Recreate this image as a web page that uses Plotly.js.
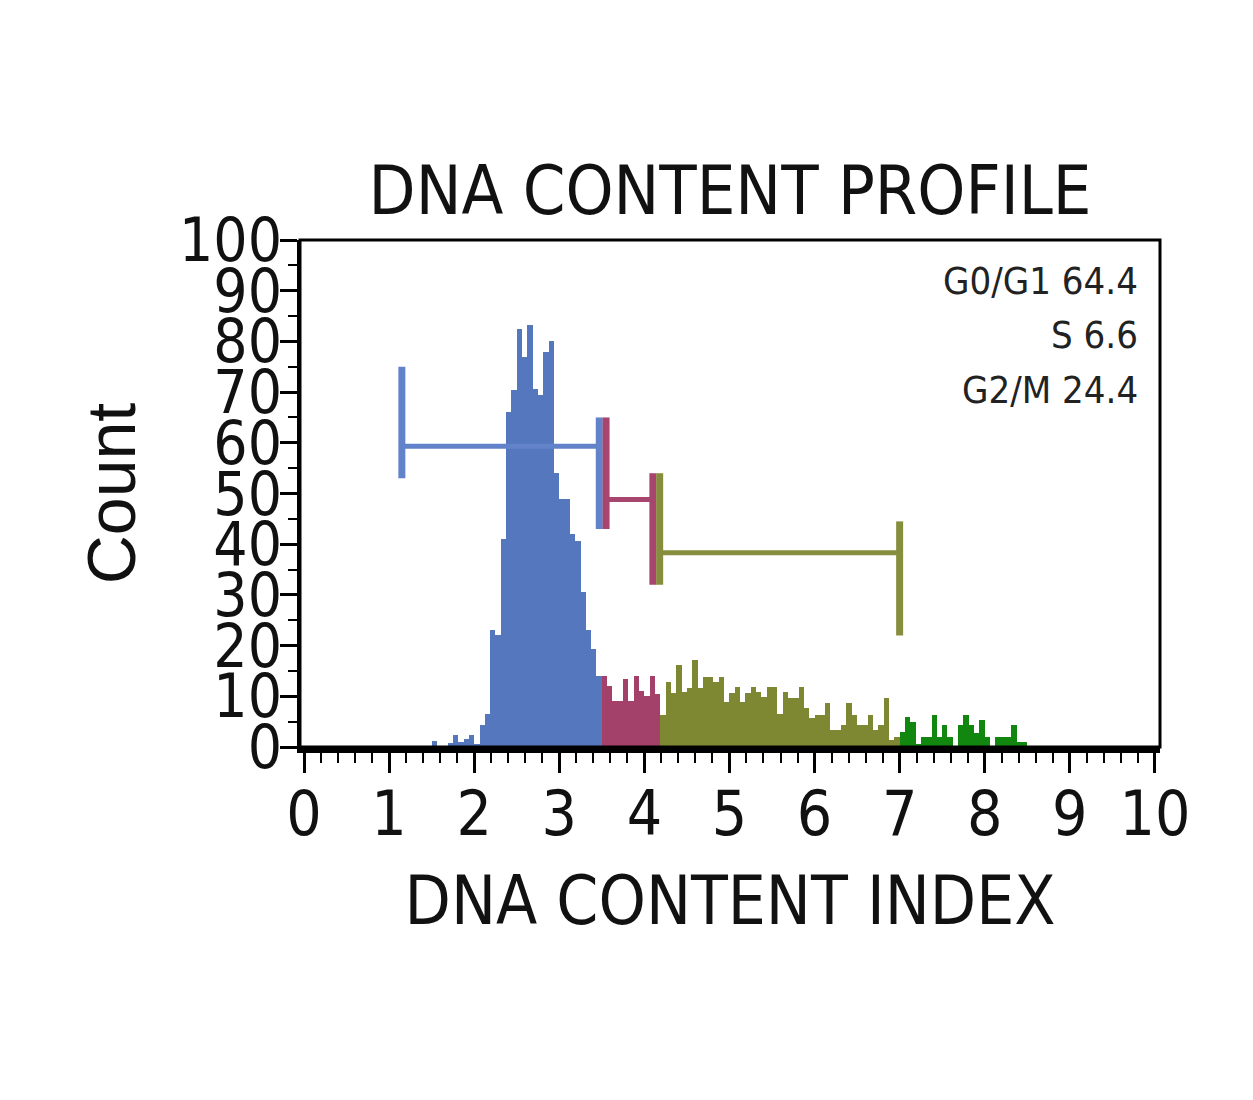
<!DOCTYPE html>
<html>
<head>
<meta charset="utf-8">
<script src="https://cdn.plot.ly/plotly-3.0.1.min.js"></script>
<style>
  html, body { margin: 0; padding: 0; background: #ffffff; }
  #chart { width: 1253px; height: 1100px; }
</style>
</head>
<body>
<div id="chart"></div>
<script>
// ---------------- data ----------------
const binWidth = 0.0625;

// G0/G1 phase histogram (bins starting at 1.5)
const g1FirstBin = 1.5;
const g1Counts = [1.2, 0, 0, 0.8, 2.3, 1.0, 1.5, 2.3, 0.5, 4.3, 6.5, 23, 22, 41, 66, 70.5,
                  82.4, 77, 83.3, 70.7, 69.5, 78, 80, 54, 49, 49, 42, 40.6, 30.5, 23, 19.3, 14];

// S phase histogram
const sFirstBin = 3.5;
const sCounts = [14, 12, 9, 9, 13.5, 9, 14, 11, 10, 14, 10.5];

// G2/M phase histogram
const g2mFirstBin = 4.1875;
const g2mCounts = [6.3, 12.9, 10.6, 16.2, 10.9, 11.6, 17.2, 11.6, 13.9, 13.9, 12.9, 13.9, 8.9,
                   10.6, 11.9, 8.9, 10.6, 11.9, 10.9, 9.9, 11.9, 11.9, 6.6, 10.9, 9.6, 9.6, 11.9,
                   7.6, 5.7, 6.3, 6.3, 8.6, 3.4, 3.4, 4.3, 8.6, 6.3, 4.3, 4.3, 6.3, 3.4, 4.3, 9.6,
                   1.4, 1.9];

// events beyond G2/M gate
const beyondFirstBin = 7.0;
const beyondCounts = [3, 6, 5, 0.5, 2, 2, 6.3, 2, 4.3, 2, 0, 4.3, 6.3, 4.3, 2.8, 5.3, 2, 0,
                      2, 2, 2, 4.3, 1, 1];

// gates
const gateNames    = ['G0/G1', 'S', 'G2/M'];
const gatePercents = [64.4, 6.6, 24.4];
const gateX0       = [1.15, 3.55, 4.18];
const gateX1       = [3.47, 4.10, 7.0];
const gateY        = [59.3, 48.8, 38.3];
const gateLeftLo   = [53, 43, 32];
const gateLeftHi   = [75, 65, 54];
const gateRightLo  = [43, 32, 22];
const gateRightHi  = [65, 54, 44.5];

// tick values
const xTicks = [0, 1, 2, 3, 4, 5, 6, 7, 8, 9, 10];
const yTicks = [0, 10, 20, 30, 40, 50, 60, 70, 80, 90, 100];

// ---------------- styling ----------------
const barColors  = ['#5477BE', '#A3416B', '#7E8833', '#12870F'];
const gateColors = ['#6283C9', '#A8456F', '#868E3E'];
const NARROW = '"Liberation Sans Narrow", "Arial Narrow", "DejaVu Sans Condensed", "Liberation Sans", Arial, sans-serif';
const REGULAR = '"Liberation Sans", Arial, sans-serif';

function centers(first, counts) {
  return counts.map((_, i) => first + binWidth * (i + 0.5));
}

function barTrace(first, counts, color, name) {
  return {
    type: 'bar',
    name: name,
    x: centers(first, counts),
    y: counts,
    width: binWidth,
    marker: { color: color, line: { width: 0 } },
    hoverinfo: 'x+y',
    showlegend: false
  };
}

const traces = [
  barTrace(g1FirstBin, g1Counts, barColors[0], 'G0/G1'),
  barTrace(sFirstBin, sCounts, barColors[1], 'S'),
  barTrace(g2mFirstBin, g2mCounts, barColors[2], 'G2/M'),
  barTrace(beyondFirstBin, beyondCounts, barColors[3], '>G2/M')
];

// gate markers
for (let i = 0; i < gateNames.length; i++) {
  traces.push({
    type: 'scatter', mode: 'lines', showlegend: false, hoverinfo: 'skip',
    x: [gateX0[i], gateX1[i]],
    y: [gateY[i], gateY[i]],
    line: { color: gateColors[i], width: 5 }
  });
  traces.push({
    type: 'scatter', mode: 'lines', showlegend: false, hoverinfo: 'skip',
    x: [gateX0[i], gateX0[i], null, gateX1[i], gateX1[i]],
    y: [gateLeftLo[i], gateLeftHi[i], null, gateRightLo[i], gateRightHi[i]],
    line: { color: gateColors[i], width: 7 }
  });
}

// statistics text
const annotations = gateNames.map((n, i) => ({
  xref: 'paper', yref: 'y',
  x: 0.977, y: 92 - i * 10.8,
  xanchor: 'right', yanchor: 'middle',
  text: n + ' ' + gatePercents[i].toFixed(1),
  showarrow: false,
  font: { family: NARROW, size: 38, color: '#222222' }
}));

const layout = {
  width: 1253,
  height: 1100,
  paper_bgcolor: '#ffffff',
  plot_bgcolor: '#ffffff',
  margin: { l: 300, r: 93, t: 240, b: 353, pad: 0 },
  bargap: 0,
  barmode: 'overlay',
  title: {
    text: 'DNA CONTENT PROFILE',
    font: { family: NARROW, size: 68, color: '#111111' },
    x: 0.5, xref: 'paper', xanchor: 'center',
    y: 1 - 190 / 1100, yref: 'container', yanchor: 'middle'
  },
  xaxis: {
    range: [-0.047, 10.06],
    tickvals: xTicks,
    ticktext: xTicks.map(String),
    ticks: 'outside', ticklen: 20, tickwidth: 3, tickcolor: '#000',
    minor: { ticks: 'outside', ticklen: 10, tickwidth: 2, tickcolor: '#000', dtick: 0.2, tick0: 0, showgrid: false },
    showgrid: false, zeroline: false,
    showline: true, linecolor: '#000', linewidth: 6,
    tickfont: { family: NARROW, size: 62, color: '#111111' },
    ticklabelstandoff: -12,
    title: { text: 'DNA CONTENT INDEX', font: { family: NARROW, size: 67, color: '#111111' }, standoff: 30 },
    automargin: false,
    fixedrange: true
  },
  yaxis: {
    range: [0, 100],
    tickvals: yTicks,
    ticktext: yTicks.map(String),
    ticks: 'outside', ticklen: 17, tickwidth: 3, tickcolor: '#000',
    minor: { ticks: 'outside', ticklen: 9, tickwidth: 2, tickcolor: '#000', dtick: 5, tick0: 0, showgrid: false },
    showgrid: false, zeroline: false,
    showline: true, linecolor: '#000', linewidth: 3,
    tickfont: { family: NARROW, size: 60, color: '#111111' },
    ticklabelstandoff: -14,
    title: { text: 'Count', font: { family: REGULAR, size: 68, color: '#111111' }, standoff: 22 },
    automargin: false,
    fixedrange: true
  },
  shapes: [{
    type: 'rect', xref: 'paper', yref: 'paper',
    x0: 0, x1: 1, y0: 0, y1: 1,
    line: { color: '#000', width: 3 },
    fillcolor: 'rgba(0,0,0,0)',
    layer: 'above'
  }],
  annotations: annotations,
  showlegend: false
};

Plotly.newPlot('chart', traces, layout, { displayModeBar: false, responsive: false });
</script>
</body>
</html>
